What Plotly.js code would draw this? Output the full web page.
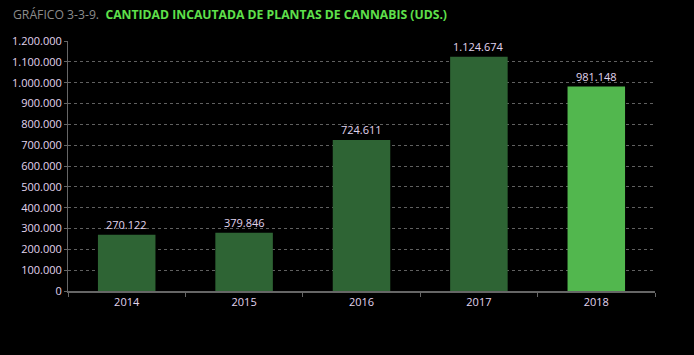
<!DOCTYPE html>
<html>
<head>
<meta charset="utf-8">
<script src="https://cdn.plot.ly/plotly-3.0.1.min.js"></script>
<style>html,body{margin:0;padding:0;background:#000;}#chart{width:694px;height:355px;}</style>
</head>
<body>
<div id="chart"></div>
<script>
const years = ['2014', '2015', '2016', '2017', '2018'];
// bar heights as drawn in the picture (the 2015 bar is drawn near 280.000 despite its label)
const barHeights = [270122, 279846, 724611, 1124674, 981148];
const barLabels = ['270.122', '379.846', '724.611', '1.124.674', '981.148'];
const barColors = ['#2e6434', '#2e6434', '#2e6434', '#2e6434', '#52b74e'];

const labelColor = '#e0d4ee';

const trace = {
  type: 'bar',
  x: years,
  y: barHeights,
  marker: {color: barColors, line: {width: 0}},
  hoverinfo: 'none'
};

// label annotations placed by category index on the category axis
const annotations = years.map((yr, i) => ({
  x: i, y: barHeights[i], xref: 'x', yref: 'y',
  text: barLabels[i], showarrow: false,
  yanchor: 'bottom', yshift: 1,
  font: {family: 'Open Sans, sans-serif', size: 11, color: labelColor}
}));

const layout = {
  width: 694, height: 355,
  paper_bgcolor: '#000', plot_bgcolor: '#000',
  margin: {l: 68, r: 39, t: 41, b: 64},
  separators: ',.',
  bargap: 0.51,
  showlegend: false,
  font: {family: 'Open Sans, sans-serif', color: labelColor, size: 11},
  annotations: annotations,
  title: {
    text: '<span style="color:#8c8c8c">GRÁFICO 3-3-9.</span>  <b style="color:#5fe04b">CANTIDAD INCAUTADA DE PLANTAS DE CANNABIS (UDS.)</b>',
    x: 0, xref: 'container', xanchor: 'left', y: 1, yref: 'container', yanchor: 'top',
    pad: {t: 10, l: 13},
    font: {family: 'Open Sans, sans-serif', size: 12.2}
  },
  xaxis: {
    type: 'category',
    range: [-0.5, years.length - 0.5],
    tickson: 'boundaries',
    ticks: 'outside', ticklen: 4, tickcolor: '#666',
    showline: true, linecolor: '#666', linewidth: 1.5,
    showgrid: false, zeroline: false,
    tickfont: {size: 11, color: labelColor}
  },
  yaxis: {
    range: [0, 1200000], dtick: 100000, tickformat: ',d',
    ticks: 'outside', ticklen: 3, tickcolor: '#666',
    showline: true, linecolor: '#666', linewidth: 1,
    showgrid: true, gridcolor: '#606060', griddash: '3px,3px', gridwidth: 1,
    zeroline: false,
    tickfont: {size: 11, color: labelColor}
  }
};

Plotly.newPlot('chart', [trace], layout, {displayModeBar: false, staticPlot: true});
</script>
</body>
</html>
